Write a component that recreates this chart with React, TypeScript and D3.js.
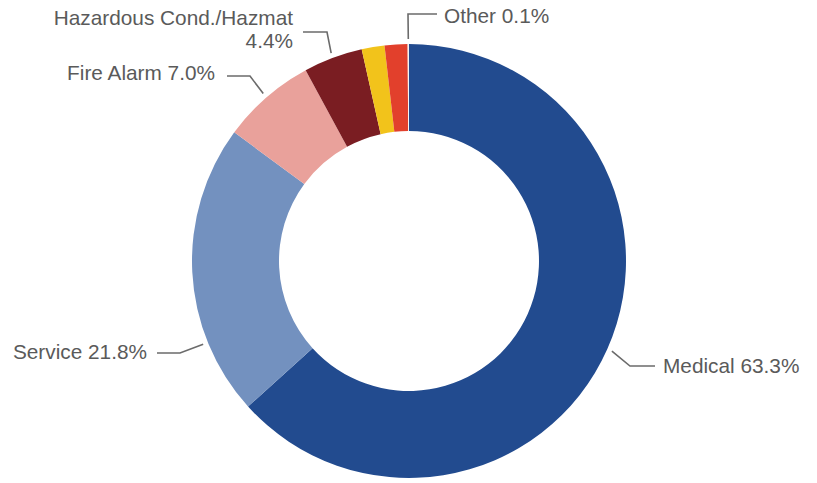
import React, { useEffect, useRef } from 'react';
import * as d3 from 'd3';

// Call types, share of total (%), clockwise from 12 o'clock
const CATEGORIES = ['Medical', 'Service', 'Fire Alarm', 'Hazardous Cond./Hazmat', 'Unlabeled A', 'Unlabeled B', 'Other'];
const SHARES = [63.3, 21.8, 7.0, 4.4, 1.7, 1.7, 0.1];
const LABELS = ['Medical 63.3%', 'Service 21.8%', 'Fire Alarm 7.0%', 'Hazardous Cond./Hazmat\n4.4%', '', '', 'Other 0.1%'];
const COLORS = ['#224b8f', '#7391bf', '#e9a19b', '#7a1d22', '#f2c31b', '#e2402c', '#f4f4f4'];

// label placement: anchor angle override (deg), elbow & text offsets from the chart centre
const LABEL_LAYOUT: Record<string, { angle?: number; elbow: [number, number]; end: [number, number]; text: [number, number]; anchor: string }> = {
  'Medical': { elbow: [221, 105], end: [246, 105], text: [254, 112], anchor: 'start' },
  'Service': { angle: 248, elbow: [-229, 92], end: [-252, 92], text: [-262, 98], anchor: 'end' },
  'Fire Alarm': { elbow: [-159, -185], end: [-182, -185], text: [-194, -181], anchor: 'end' },
  'Hazardous Cond./Hazmat': { elbow: [-82, -229], end: [-106, -229], text: [-116, -236], anchor: 'end' },
  'Other': { elbow: [-1, -247], end: [28, -247], text: [35, -238], anchor: 'start' }
};

const App: React.FC = () => {
  const svgRef = useRef<SVGSVGElement>(null);

  useEffect(() => {
    if (!svgRef.current) return;
    d3.select(svgRef.current).selectAll('*').remove();

    const width = 817;
    const height = 483;
    const cx = 409;
    const cy = 261;
    const outerR = 217;
    const innerR = 130;

    const svg = d3.select(svgRef.current)
      .attr('width', width)
      .attr('height', height);

    svg.append('rect').attr('width', width).attr('height', height).attr('fill', '#ffffff');

    const g = svg.append('g').attr('transform', `translate(${cx}, ${cy})`);

    const data = CATEGORIES.map((c, i) => ({ name: c, value: SHARES[i], label: LABELS[i], color: COLORS[i] }));

    const pie = d3.pie<typeof data[number]>()
      .sort(null)
      .value(d => d.value)
      .startAngle(0)
      .endAngle(2 * Math.PI);

    const arc = d3.arc<d3.PieArcDatum<typeof data[number]>>()
      .innerRadius(innerR)
      .outerRadius(outerR);

    const arcs = pie(data);

    g.selectAll('.slice')
      .data(arcs)
      .enter()
      .append('path')
      .attr('class', 'slice')
      .attr('d', arc)
      .attr('fill', d => d.data.color);

    // Leader lines + labels
    arcs.forEach(d => {
      const layout = LABEL_LAYOUT[d.data.name];
      if (!layout || !d.data.label) return;
      const ang = layout.angle !== undefined
        ? (layout.angle * Math.PI) / 180
        : (d.startAngle + d.endAngle) / 2;
      const r0 = outerR + 5;
      const start: [number, number] = [Math.sin(ang) * r0, -Math.cos(ang) * r0];

      g.append('polyline')
        .attr('points', [start, layout.elbow, layout.end].map(p => p.join(',')).join(' '))
        .attr('fill', 'none')
        .attr('stroke', '#6b6b6b')
        .attr('stroke-width', 1.6);

      const lines = d.data.label.split('\n');
      const t = g.append('text')
        .attr('x', layout.text[0])
        .attr('y', layout.text[1])
        .attr('text-anchor', layout.anchor)
        .style('font-family', '"Liberation Sans", Arial, sans-serif')
        .style('font-size', '20.8px')
        .style('fill', '#5a5a5a');
      lines.forEach((ln, i) => {
        t.append('tspan')
          .attr('x', layout.text[0])
          .attr('dy', i === 0 ? 0 : 23)
          .text(ln);
      });
    });
  }, []);

  return (
    <div style={{ position: 'absolute', left: 0, top: 0 }}>
      <svg ref={svgRef} style={{ display: 'block' }} />
    </div>
  );
};

export default App;
